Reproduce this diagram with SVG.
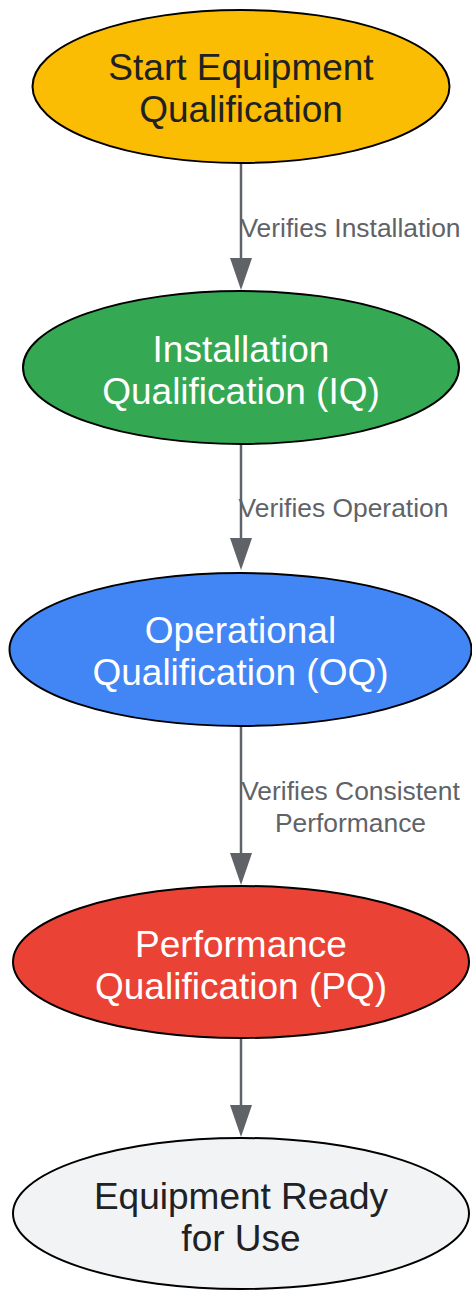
<svg xmlns="http://www.w3.org/2000/svg" width="472" height="1290" viewBox="0 0 472 1290">
  <style>
    .node ellipse { stroke: #000000; stroke-width: 2; }
    .node text { font-family: "Liberation Sans", Arial, sans-serif; font-size: 37px; text-anchor: middle; }
    .dark { fill: #202124; }
    .light { fill: #ffffff; }
    .edge { stroke: #5f6368; stroke-width: 2.5; fill: none; marker-end: url(#arrow); }
    .elabel { font-family: "Liberation Sans", Arial, sans-serif; font-size: 26.4px; fill: #5f6368; text-anchor: middle; }
  </style>
  <defs>
    <marker id="arrow" markerUnits="userSpaceOnUse" markerWidth="32" markerHeight="22" viewBox="0 0 32 22" refX="1" refY="11" orient="auto">
      <path d="M0,0 L32,11 L0,22 Z" fill="#5f6368"/>
    </marker>
  </defs>
  <rect width="472" height="1290" fill="#ffffff"/>

  <g id="connectors">
    <line class="edge" x1="241" y1="164" x2="241" y2="259"/>
    <line class="edge" x1="241" y1="445" x2="241" y2="539"/>
    <line class="edge" x1="241" y1="727" x2="241" y2="854"/>
    <line class="edge" x1="241" y1="1039" x2="241" y2="1106"/>
    <text class="elabel" x="350.5" y="237">Verifies Installation</text>
    <text class="elabel" x="343.5" y="517">Verifies Operation</text>
    <text class="elabel" x="350.5" y="800">Verifies Consistent</text>
    <text class="elabel" x="350.5" y="832">Performance</text>
  </g>

  <g id="start" class="node">
    <ellipse cx="241" cy="86.5" rx="208.5" ry="76.5" fill="#fbbc04"/>
    <text class="dark" x="241" y="80">Start Equipment</text>
    <text class="dark" x="241" y="122">Qualification</text>
  </g>

  <g id="iq" class="node">
    <ellipse cx="241" cy="367.5" rx="218" ry="76.5" fill="#34a853"/>
    <text class="light" x="241" y="362">Installation</text>
    <text class="light" x="241" y="404">Qualification (IQ)</text>
  </g>

  <g id="oq" class="node">
    <ellipse cx="240.5" cy="649.5" rx="231" ry="76.5" fill="#4285f4"/>
    <text class="light" x="240.5" y="643">Operational</text>
    <text class="light" x="240.5" y="685">Qualification (OQ)</text>
  </g>

  <g id="pq" class="node">
    <ellipse cx="241" cy="962" rx="228" ry="76" fill="#ea4335"/>
    <text class="light" x="241" y="957">Performance</text>
    <text class="light" x="241" y="999">Qualification (PQ)</text>
  </g>

  <g id="ready" class="node">
    <ellipse cx="241" cy="1213.5" rx="228" ry="75.5" fill="#f1f3f4"/>
    <text class="dark" x="241" y="1209">Equipment Ready</text>
    <text class="dark" x="241" y="1251">for Use</text>
  </g>
</svg>
